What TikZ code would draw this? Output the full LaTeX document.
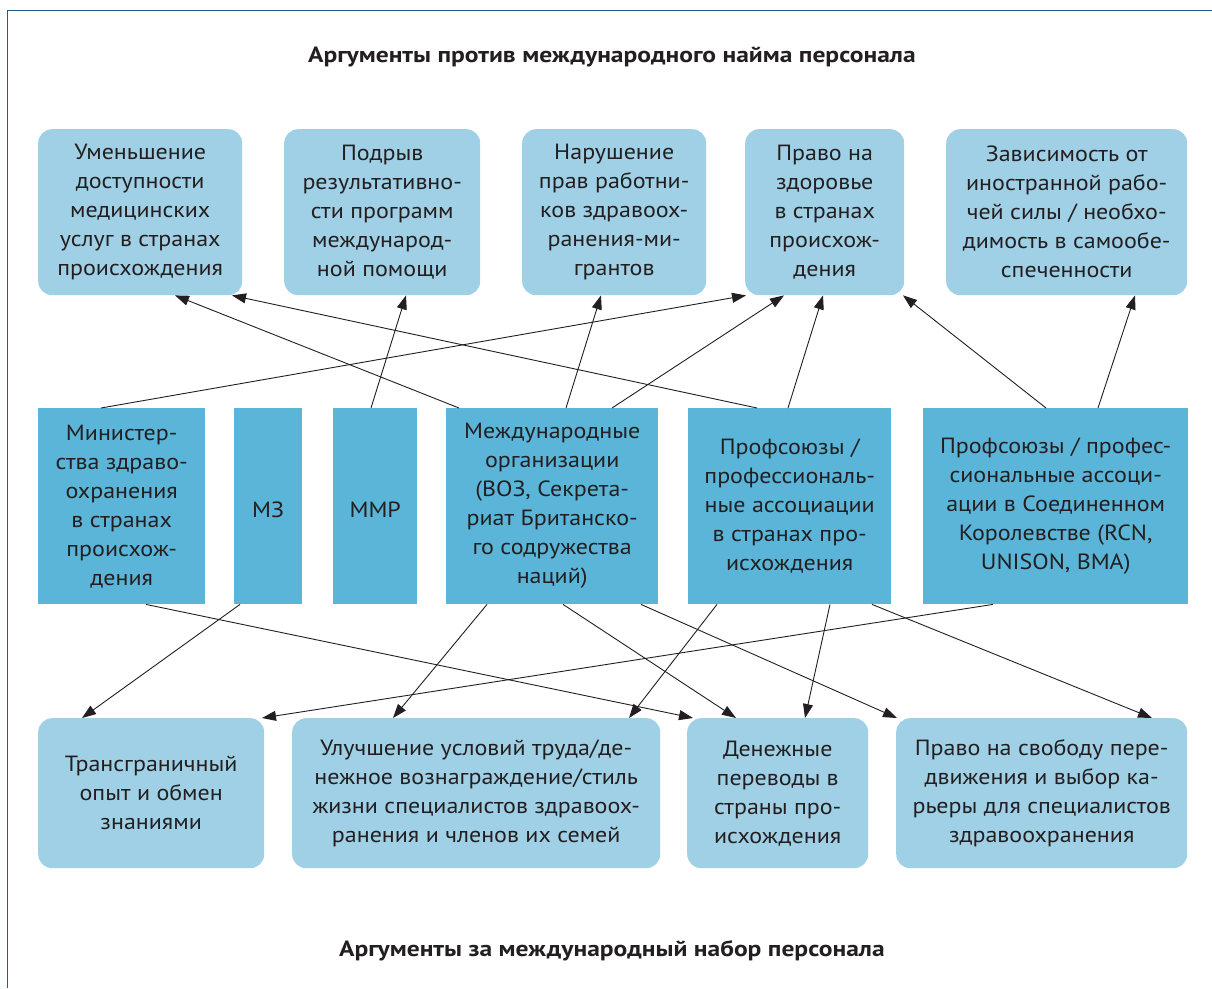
\documentclass[tikz,border=0pt]{standalone}
\usepackage{fontspec}
\setmainfont[FakeStretch=1.09]{PT Sans}
\newfontfamily\ttlfont[FakeStretch=1.16]{PT Sans}
\usetikzlibrary{arrows.meta}
\definecolor{lb}{HTML}{A0D0E6}
\definecolor{mb}{HTML}{5AB5D8}
\definecolor{tx}{HTML}{231F20}
\definecolor{fr}{HTML}{1F5A96}
\begin{document}
\begin{tikzpicture}[x=1pt,y=-1pt,
  box/.style={fill=lb, rounded corners=14pt, inner sep=0pt, align=center, text=tx, anchor=north west, font=\fontsize{22}{29}\selectfont, execute at begin node={\rule{0pt}{22pt}}},
  mbox/.style={fill=mb, inner sep=0pt, align=center, text=tx, anchor=north west, font=\fontsize{22}{29}\selectfont, execute at begin node={\rule{0pt}{22pt}}},
  ttl/.style={text=tx, font=\ttlfont\bfseries\fontsize{22}{26}\selectfont},
  arr/.style={-{Triangle[length=14pt,width=10pt]}, line width=0.9pt, draw=tx}]
\useasboundingbox (0,0) rectangle (1212,988);
\fill[white] (0,0) rectangle (1212,988);
\draw[fr, line width=1.6pt] (7.5,988) -- (7.5,10.5) -- (1212,10.5);

\node[ttl] (title1) at (612,57) {Аргументы против международного найма персонала};
\node[ttl] (title2) at (612,951) {Аргументы за международный набор персонала};

% top row
\node[box, minimum width=204pt, minimum height=166pt] (t1) at (38,129) {Уменьшение\\доступности\\медицинских\\услуг в странах\\происхождения};
\node[box, minimum width=196pt, minimum height=166pt] (t2) at (284,129) {Подрыв\\результативно-\\сти программ\\международ-\\ной помощи};
\node[box, minimum width=184pt, minimum height=166pt] (t3) at (522,129) {Нарушение\\прав работни-\\ков здравоох-\\ранения-ми-\\грантов};
\node[box, minimum width=159pt, minimum height=166pt] (t4) at (745,129) {Право на\\здоровье\\в странах\\происхож-\\дения};
\node[box, minimum width=241pt, minimum height=166pt] (t5) at (946,129) {Зависимость от\\иностранной рабо-\\чей силы / необхо-\\димость в самообе-\\спеченности};

% middle row
\node[mbox, minimum width=167pt, minimum height=196pt] (m1) at (38,408) {Министер-\\ства здраво-\\охранения\\в странах\\происхож-\\дения};
\node[mbox, minimum width=68pt, minimum height=196pt] (m2) at (234,408) {МЗ};
\node[mbox, minimum width=84pt, minimum height=196pt] (m3) at (333,408) {ММР};
\node[mbox, minimum width=212pt, minimum height=196pt] (m4) at (446,408) {Международные\\организации\\(ВОЗ, Секрета-\\риат Британско-\\го содружества\\наций)};
\node[mbox, minimum width=203pt, minimum height=196pt] (m5) at (688,408) {Профсоюзы /\\профессиональ-\\ные ассоциации\\в странах про-\\исхождения};
\node[mbox, minimum width=265pt, minimum height=196pt] (m6) at (923,408) {Профсоюзы / профес-\\сиональные ассоци-\\ации в Соединенном\\Королевстве (RCN,\\UNISON, BMA)};

% bottom row
\node[box, minimum width=226pt, minimum height=150pt] (b1) at (38,718) {Трансграничный\\опыт и обмен\\знаниями};
\node[box, minimum width=368pt, minimum height=150pt] (b2) at (292,718) {Улучшение условий труда/де-\\нежное вознаграждение/стиль\\жизни специалистов здравоох-\\ранения и членов их семей};
\node[box, minimum width=181pt, minimum height=150pt] (b3) at (687,718) {Денежные\\переводы в\\страны про-\\исхождения};
\node[box, minimum width=291pt, minimum height=150pt] (b4) at (896,718) {Право на свободу пере-\\движения и выбор ка-\\рьеры для специалистов\\здравоохранения};

% arrows up
\draw[arr] ([xshift=63pt]m1.north west) -- ([xshift=1pt]t4.south west);
\draw[arr] ([xshift=38pt]m3.north west) -- ([xshift=122pt]t2.south west);
\draw[arr] ([xshift=13pt]m4.north west) -- ([xshift=137pt]t1.south west);
\draw[arr] ([xshift=120pt]m4.north west) -- ([xshift=79pt]t3.south west);
\draw[arr] ([xshift=166pt]m4.north west) -- ([xshift=39pt]t4.south west);
\draw[arr] ([xshift=69pt]m5.north west) -- ([xshift=194pt]t1.south west);
\draw[arr] ([xshift=100pt]m5.north west) -- ([xshift=78pt]t4.south west);
\draw[arr] ([xshift=123pt]m6.north west) -- ([xshift=158pt]t4.south west);
\draw[arr] ([xshift=175pt]m6.north west) -- ([xshift=189pt]t5.south west);

% arrows down
\draw[arr] ([xshift=108pt]m1.south west) -- ([xshift=6pt]b3.north west);
\draw[arr] ([xshift=6pt]m2.south west) -- ([xshift=44pt]b1.north west);
\draw[arr] ([xshift=41pt]m4.south west) -- ([xshift=101pt]b2.north west);
\draw[arr] ([xshift=117pt]m4.south west) -- ([xshift=49pt]b3.north west);
\draw[arr] ([xshift=195pt]m4.south west) -- ([xshift=1pt]b4.north west);
\draw[arr] ([xshift=29pt]m5.south west) -- ([xshift=337pt]b2.north west);
\draw[arr] ([xshift=142pt]m5.south west) -- ([xshift=118pt]b3.north west);
\draw[arr] ([xshift=184pt]m5.south west) -- ([xshift=256pt]b4.north west);
\draw[arr] ([xshift=70pt]m6.south west) -- ([xshift=224pt]b1.north west);
\end{tikzpicture}
\end{document}
